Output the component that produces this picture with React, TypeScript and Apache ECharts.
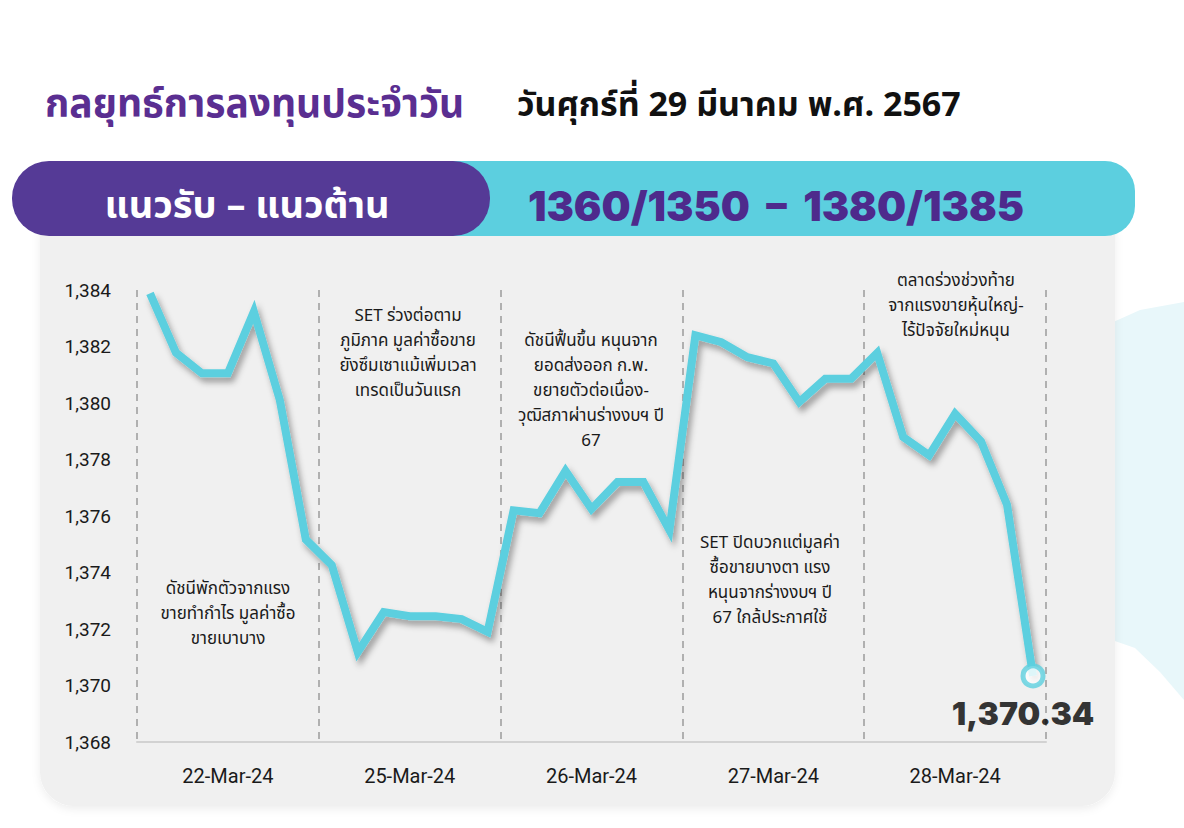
import React, { useEffect, useRef } from "react";
import * as echarts from "echarts";

const days = ["22-Mar-24", "25-Mar-24", "26-Mar-24", "27-Mar-24", "28-Mar-24"];
const setIndex = [
  1383.88, 1381.78, 1381.05, 1381.05, 1383.23, 1380.1, 1375.17,
  1374.26, 1371.18, 1372.6, 1372.45, 1372.45, 1372.35, 1371.9,
  1376.2, 1376.1, 1377.6, 1376.25, 1377.2, 1377.2, 1375.5,
  1382.4, 1382.15, 1381.62, 1381.4, 1380.04, 1380.86, 1380.86,
  1381.77, 1378.8, 1378.15, 1379.62, 1378.64, 1376.4, 1370.34,
];
const yTicks = { min: 1368, max: 1384, interval: 2 };
const title = "กลยุทธ์การลงทุนประจำวัน";
const dateText = "วันศุกร์ที่ 29 มีนาคม พ.ศ. 2567";
const bandLabel = "แนวรับ – แนวต้าน";
const bandValue = "1360/1350  –  1380/1385";
const notes = [
  "ดัชนีพักตัวจากแรง\nขายทำกำไร มูลค่าซื้อ\nขายเบาบาง",
  "SET ร่วงต่อตาม\nภูมิภาค มูลค่าซื้อขาย\nยังซึมเซาแม้เพิ่มเวลา\nเทรดเป็นวันแรก",
  "ดัชนีฟื้นขึ้น หนุนจาก\nยอดส่งออก ก.พ.\nขยายตัวต่อเนื่อง-\nวุฒิสภาผ่านร่างงบฯ ปี\n67",
  "SET ปิดบวกแต่มูลค่า\nซื้อขายบางตา แรง\nหนุนจากร่างงบฯ ปี\n67 ใกล้ประกาศใช้",
  "ตลาดร่วงช่วงท้าย\nจากแรงขายหุ้นใหญ่-\nไร้ปัจจัยใหม่หนุน",
];

const THAI = "'Noto Sans Thai', 'Noto Sans Thai UI', 'Noto Sans', 'DejaVu Sans', sans-serif";
const CYAN = "#5ccfdf";
const PURPLE = "#553a96";

export default function App() {
  const ref = useRef<HTMLDivElement>(null);
  useEffect(() => {
    if (!ref.current) return;
    const chart = echarts.init(ref.current, null, { renderer: "svg" });
    const cats = setIndex.map((_, i) => String(i));
    const last = setIndex.length - 1;
    const noteLayout = [
      { x: 228, y: 576 },
      { x: 408, y: 303 },
      { x: 591, y: 328 },
      { x: 770, y: 530 },
      { x: 956, y: 268 },
    ];
    const noteGraphics = notes.map((t, i) => ({
      type: "text",
      z: 5,
      x: noteLayout[i].x,
      y: noteLayout[i].y,
      style: {
        text: t,
        fill: "#1a1a1a",
        font: `17px ${THAI}`,
        lineHeight: 25,
        align: "center",
        verticalAlign: "top",
      },
    }));
    chart.setOption({
      animation: false,
      backgroundColor: "#ffffff",
      graphic: [
        {
          type: "polygon",
          z: -10,
          shape: {
            points: [
              [1100, 328], [1140, 310], [1184, 302], [1184, 700], [1160, 672], [1135, 648], [1112, 640],
            ],
          },
          style: { fill: "#e8f7fa" },
        },
        {
          type: "rect",
          z: -9,
          shape: { x: 40, y: 200, width: 1075, height: 606, r: 34 },
          style: { fill: "#f0f0f0", shadowColor: "rgba(0,0,0,0.07)", shadowBlur: 8, shadowOffsetY: 3 },
        },
        {
          type: "rect",
          z: -8,
          shape: { x: 430, y: 161, width: 705, height: 75, r: [0, 30, 30, 0] },
          style: { fill: CYAN },
        },
        {
          type: "rect",
          z: -7,
          shape: { x: 12, y: 161, width: 478, height: 75, r: 37 },
          style: { fill: PURPLE },
        },
        {
          type: "text",
          x: 247,
          y: 206,
          style: {
            text: bandLabel,
            fill: "#ffffff",
            font: `bold 38px ${THAI}`,
            align: "center",
            verticalAlign: "middle",
          },
        },
        {
          type: "text",
          x: 776,
          y: 206,
          style: {
            text: bandValue,
            fill: "#4e2a8c",
            font: `900 41px 'Inter', 'Roboto', sans-serif`,
            align: "center",
            verticalAlign: "middle",
          },
        },
        {
          type: "text",
          x: 45,
          y: 105,
          style: {
            text: title,
            fill: "#5a2e91",
            font: `bold 39px ${THAI}`,
            align: "left",
            verticalAlign: "middle",
          },
        },
        {
          type: "text",
          x: 517,
          y: 105,
          style: {
            text: dateText,
            fill: "#111111",
            font: `bold 34px ${THAI}`,
            align: "left",
            verticalAlign: "middle",
          },
        },
        ...noteGraphics,
      ],
      grid: { left: 137, right: 138, top: 290, bottom: 86, containLabel: false },
      xAxis: [
        {
          type: "category",
          data: cats,
          boundaryGap: true,
          show: false,
        },
        {
          type: "category",
          data: days,
          boundaryGap: true,
          position: "bottom",
          axisLine: { show: true, lineStyle: { color: "#d2d2d2", width: 2 } },
          axisTick: { show: false },
          axisLabel: { color: "#1a1a1a", fontSize: 20, margin: 24, fontFamily: "Roboto, sans-serif" },
          splitLine: { show: true, lineStyle: { color: "#9a9a9a", type: [7, 6], width: 1.5 } },
        },
      ],
      yAxis: {
        type: "value",
        min: yTicks.min,
        max: yTicks.max,
        interval: yTicks.interval,
        axisLine: { show: false },
        axisTick: { show: false },
        splitLine: { show: false },
        axisLabel: {
          color: "#1a1a1a",
          fontSize: 19,
          margin: 26,
          fontFamily: "Roboto, sans-serif",
          formatter: (v: number) => v.toLocaleString("en-US"),
        },
      },
      series: [
        {
          type: "line",
          xAxisIndex: 0,
          data: setIndex,
          showSymbol: false,
          symbol: "none",
          lineStyle: {
            color: CYAN,
            width: 8,
            join: "miter",
            shadowColor: "rgba(0,0,0,0.35)",
            shadowBlur: 6,
            shadowOffsetX: 3,
            shadowOffsetY: 5,
          },
          z: 3,
        },
        {
          type: "scatter",
          xAxisIndex: 0,
          data: [[last, setIndex[last]]],
          symbol: "circle",
          symbolSize: 20,
          itemStyle: { color: "#ffffff", borderColor: CYAN, borderWidth: 5 },
          label: {
            show: true,
            position: "bottom",
            distance: 9,
            offset: [-10, 0],
            formatter: () =>
              setIndex[last].toLocaleString("en-US", { minimumFractionDigits: 2, maximumFractionDigits: 2 }),
            color: "#000000",
            fontSize: 32,
            fontWeight: 900,
            fontFamily: "Inter, Roboto, sans-serif",
          },
          z: 6,
        },
      ],
    });
    return () => chart.dispose();
  }, []);
  return (
    <div
      ref={ref}
      style={{ position: "fixed", left: 0, top: 0, width: 1184, height: 828 }}
    />
  );
}
